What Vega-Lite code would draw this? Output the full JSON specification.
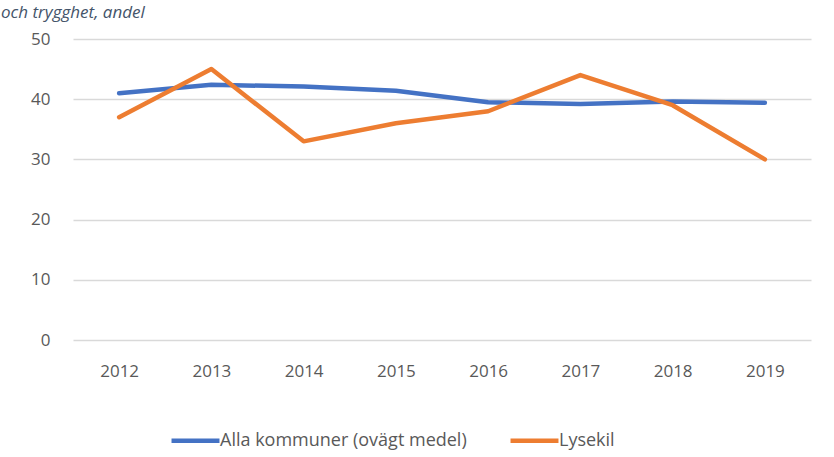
{
  "$schema": "https://vega.github.io/schema/vega-lite/v6.json",
  "width": 738,
  "height": 301,
  "autosize": {"type": "none"},
  "padding": {"left": 73, "top": 39, "right": 23, "bottom": 117},
  "background": "#ffffff",
  "title": {
    "text": "och trygghet, andel",
    "anchor": "start",
    "frame": "group",
    "orient": "top",
    "baseline": "alphabetic",
    "offset": -5,
    "dx": -72,
    "font": "Open Sans",
    "fontStyle": "italic",
    "fontWeight": "normal",
    "fontSize": 17,
    "color": "#44546A"
  },
  "data": {
    "values": [
      {"year": "2012", "series": "Alla kommuner (ovägt medel)", "value": 41.0},
      {"year": "2013", "series": "Alla kommuner (ovägt medel)", "value": 42.4},
      {"year": "2014", "series": "Alla kommuner (ovägt medel)", "value": 42.1},
      {"year": "2015", "series": "Alla kommuner (ovägt medel)", "value": 41.4},
      {"year": "2016", "series": "Alla kommuner (ovägt medel)", "value": 39.5},
      {"year": "2017", "series": "Alla kommuner (ovägt medel)", "value": 39.2},
      {"year": "2018", "series": "Alla kommuner (ovägt medel)", "value": 39.6},
      {"year": "2019", "series": "Alla kommuner (ovägt medel)", "value": 39.4},
      {"year": "2012", "series": "Lysekil", "value": 37},
      {"year": "2013", "series": "Lysekil", "value": 45},
      {"year": "2014", "series": "Lysekil", "value": 33},
      {"year": "2015", "series": "Lysekil", "value": 36},
      {"year": "2016", "series": "Lysekil", "value": 38},
      {"year": "2017", "series": "Lysekil", "value": 44},
      {"year": "2018", "series": "Lysekil", "value": 39},
      {"year": "2019", "series": "Lysekil", "value": 30}
    ]
  },
  "mark": {"type": "line", "strokeWidth": 4.5, "strokeCap": "round", "strokeJoin": "round"},
  "encoding": {
    "x": {
      "field": "year",
      "type": "ordinal",
      "scale": {"paddingInner": 0, "paddingOuter": 0.5},
      "axis": {
        "title": null,
        "labelAngle": 0,
        "domain": false,
        "ticks": false,
        "grid": false,
        "labelPadding": 23,
        "labelFont": "Open Sans",
        "labelFontSize": 17,
        "labelColor": "#595959"
      }
    },
    "y": {
      "field": "value",
      "type": "quantitative",
      "scale": {"domain": [0, 50]},
      "axis": {
        "title": null,
        "values": [0, 10, 20, 30, 40, 50],
        "domain": false,
        "ticks": false,
        "labelPadding": 23,
        "labelFont": "Open Sans",
        "labelFontSize": 17,
        "labelColor": "#595959",
        "gridColor": "#d9d9d9",
        "gridWidth": 1.5
      }
    },
    "color": {
      "field": "series",
      "type": "nominal",
      "scale": {"domain": ["Alla kommuner (ovägt medel)", "Lysekil"], "range": ["#4472C4", "#ED7D31"]},
      "legend": {
        "title": null,
        "orient": "none",
        "direction": "horizontal",
        "legendX": 96,
        "legendY": 375,
        "symbolType": "stroke",
        "symbolSize": 2300,
        "symbolStrokeWidth": 4.5,
        "labelFont": "Open Sans",
        "labelFontSize": 18,
        "labelColor": "#595959",
        "labelLimit": 400,
        "labelOffset": -2,
        "columnPadding": 34
      }
    }
  },
  "config": {
    "view": {"stroke": null}
  }
}
